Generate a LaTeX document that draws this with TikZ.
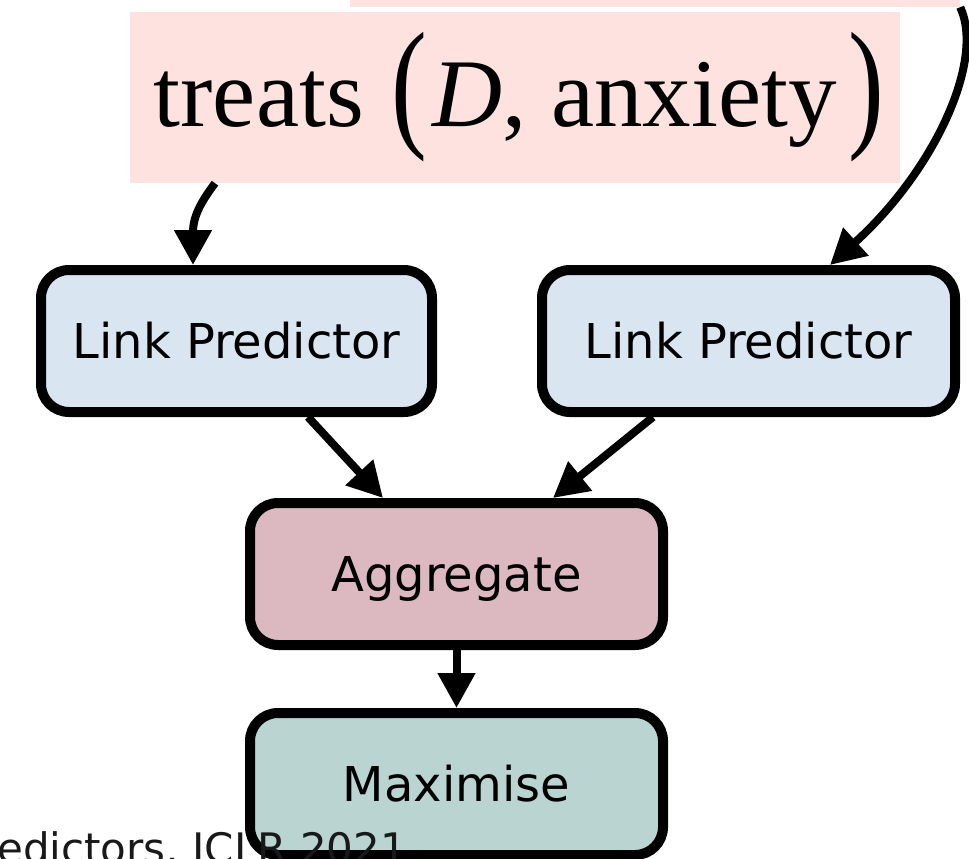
\documentclass[tikz,border=0pt]{standalone}
\usepackage{fontspec}
\usepackage{tikz}
\usetikzlibrary{arrows.meta,calc,positioning}
\newfontfamily\boxfont{DejaVu Sans}
\newfontfamily\formulafont{Liberation Serif}
\definecolor{querypink}{RGB}{253,226,224}
\definecolor{linkblue}{RGB}{218,229,242}
\definecolor{aggrose}{RGB}{220,184,193}
\definecolor{maxteal}{RGB}{185,212,209}
\newcommand{\bigparen}[1]{\raisebox{-5pt}{\scalebox{0.75}[1]{\fontsize{143}{143}\selectfont#1}}}
\tikzset{
  stepbox/.style={draw=black, line width=10pt, rounded corners=28pt, inner sep=0pt,
    minimum width=413pt, minimum height=142pt,
    font=\boxfont\fontsize{48}{56}\selectfont, text height=35pt, text depth=0pt},
  conn/.style={line width=8pt, -{Triangle[length=35pt,width=36pt]}},
}

\begin{document}
\begin{tikzpicture}[x=1pt,y=-1pt]
		\useasboundingbox (0,0) rectangle (969,859);
		
		% query boxes (the upper one is cut off)
		\node[fill=querypink, minimum width=610pt, minimum height=94pt] (prev) at (655,-40) {};
		\node[fill=querypink, minimum width=770pt, minimum height=171pt, inner sep=0pt,
		font=\formulafont\fontsize{97}{118}\selectfont] (query) at (515,97.5)
		{\hspace*{8pt}treats\hspace{28pt}\bigparen{(}\hspace{5pt}\textit{D}, anxiety\hspace{12pt}\bigparen{)}};
		
		% pipeline
		\node[stepbox, fill=linkblue, minimum width=391pt] (lp1) at (236.5,341) {Link Predictor};
		\node[stepbox, fill=linkblue] (lp2) at (748.5,341) {Link Predictor};
		\node[stepbox, fill=aggrose] (agg) at (456.5,574) {Aggregate};
		\node[stepbox, fill=maxteal] (maxi) at (456.5,784) {Maximise};
		
		% citation, cut at the left and bottom
		\node[anchor=base west, inner sep=0pt, text=black!90,
		font=\boxfont\fontsize{42}{50}\selectfont] (cite) at (-3,863) {edictors, ICLR 2021};
		
		\draw[conn] ([xshift=-300pt]query.south) .. controls +(-12,16) and +(0,-50) .. ([xshift=-43.5pt]lp1.north);
		\draw[conn] (prev.south east) .. controls (985,60) and (935,170) .. ([xshift=81.5pt]lp2.north);
		\draw[conn] ([xshift=71.5pt]lp1.south) -- ([xshift=-73.5pt]agg.north);
		\draw[conn] ([xshift=-95.5pt]lp2.south) -- ([xshift=96.5pt]agg.north);
		\draw[conn] (agg) -- (maxi);
	\end{tikzpicture}
\end{document}
